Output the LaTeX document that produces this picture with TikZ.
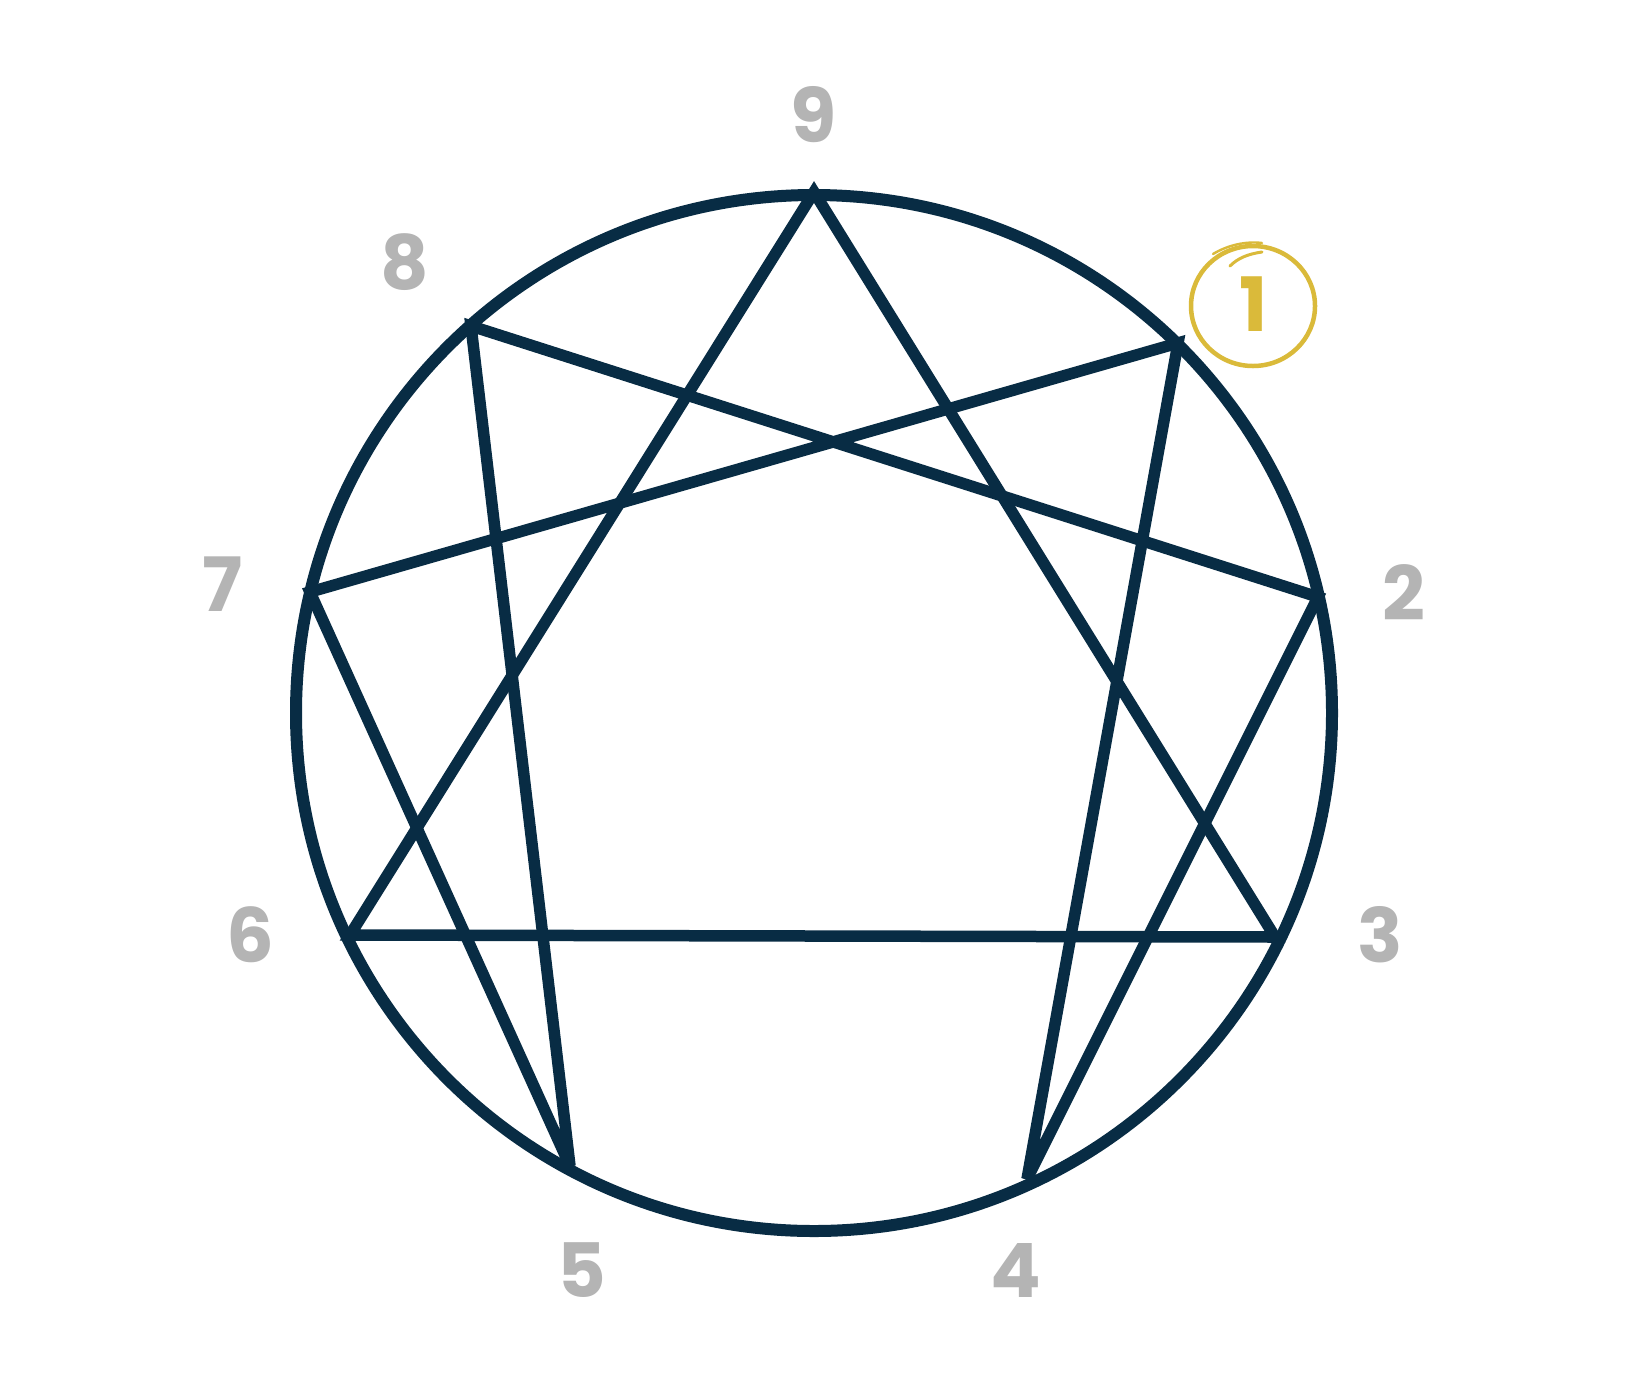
\documentclass[tikz,border=0pt]{standalone}
\usepackage{fontspec}
\newfontfamily\numfont{Poppins}
\definecolor{navy}{RGB}{8,44,68}
\definecolor{numgray}{RGB}{180,180,180}
\definecolor{gold}{RGB}{218,186,58}
\begin{document}
\begin{tikzpicture}[x=1pt,y=-1pt,
  ring/.style={draw=navy,line width=12pt},
  figline/.style={draw=navy,line width=11.5pt,line join=miter,miter limit=3.5},
  numlabel/.style={text=numgray,font=\numfont\bfseries\fontsize{75}{75}\selectfont,inner sep=0pt},
  hilite/.style={draw=gold,line width=4.5pt}]
\useasboundingbox (0,0) rectangle (1645,1379);
\fill[white] (0,0) rectangle (1645,1379);
\coordinate (c) at (814,713);
\draw[ring] (c) circle (518);
\coordinate (p9) at (814,192);
\coordinate (p1) at (1178,343);
\coordinate (p2) at (1318,597);
\coordinate (p3) at (1275,937);
\coordinate (p4) at (1027,1179);
\coordinate (p5) at (570,1166);
\coordinate (p6) at (350,935);
\coordinate (p7) at (310,592);
\coordinate (p8) at (471,326);
\draw[figline] (p9) -- (p3) -- (p6) -- cycle;
\draw[figline] (p1) -- (p4) -- (p2) -- (p8) -- (p5) -- (p7) -- cycle;
\node[numlabel] (l9) at (814,115) {9};
\node[numlabel] (l8) at (405,262) {8};
\node[numlabel] (l7) at (223,584) {7};
\node[numlabel] (l6) at (250,935) {6};
\node[numlabel] (l5) at (582,1270) {5};
\node[numlabel] (l4) at (1016,1270) {4};
\node[numlabel] (l3) at (1380,935) {3};
\node[numlabel] (l2) at (1404,593) {2};
\node[numlabel,text=gold] (l1) at (1254,304) {1};
\draw[hilite] (1253,306) ellipse (62 and 60);
\draw[draw=gold,line width=2.4pt,line cap=round] (1213,254) .. controls (1228,245) and (1246,241) .. (1262,243);
\draw[draw=gold,line width=3pt,line cap=round] (1230,266) .. controls (1238,258) and (1248,254) .. (1262,252);
\end{tikzpicture}
\end{document}
